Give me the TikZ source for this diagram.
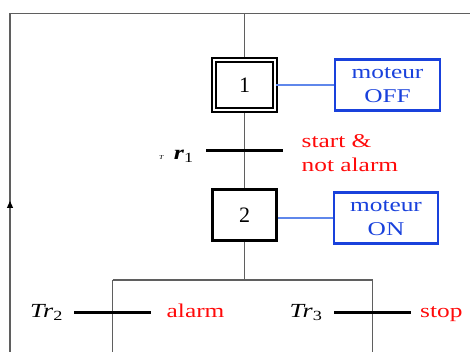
\documentclass[tikz,border=0pt]{standalone}
\usepackage{fontspec}
\setmainfont{Liberation Serif}
\usepackage{graphicx}
\usetikzlibrary{arrows.meta, positioning, backgrounds}
\definecolor{actblue}{RGB}{25,65,220}
\definecolor{linkblue}{RGB}{95,135,235}
\definecolor{condred}{RGB}{255,10,10}
\definecolor{wiregray}{RGB}{95,95,95}
\newcommand{\widetxt}[1]{\scalebox{1.3}[1]{#1}}

\begin{document}
\begin{tikzpicture}[x=1pt, y=-1pt,
    etape/.style={draw=black, line width=2.8pt, minimum width=63.5pt, minimum height=50.5pt, inner sep=0pt, font=\fontsize{22}{22}\selectfont},
    etapeinit/.style={etape, line width=1.9pt, double=white, double distance=2.2pt, minimum width=61pt, minimum height=49.5pt},
    action/.style={draw=actblue, line width=2.2pt, minimum width=104.5pt, minimum height=51pt, inner sep=0pt, align=center, text=actblue, font=\fontsize{19.5}{24.5}\selectfont},
    trans/.style={fill=black, inner sep=0pt, minimum width=77pt, minimum height=3pt},
    cond/.style={text=condred, align=left, inner sep=0pt, font=\fontsize{19.5}{24}\selectfont},
    trname/.style={inner sep=0pt, anchor=base west, font=\fontsize{20}{20}\selectfont\itshape},
    wire/.style={draw=wiregray, line width=1.2pt},
    lien/.style={draw=linkblue, line width=1.3pt}]
    \useasboundingbox (0,0) rectangle (470,352);

    % Etapes et actions
    \node[etapeinit] (e1) at (244.5,85) {1};
    \node[action] (a1) at (387.5,85) {\widetxt{moteur}\\\widetxt{OFF}};
    \node[etape] (e2) at (244.5,215) {2};
    \node[action] (a2) at (386,218) {\widetxt{moteur}\\\widetxt{ON}};

    % Transitions
    \node[trans] (t1) at (244.5,150.5) {};
    \node[trname] (n1) at (159,159.3) {\widetxt{{\fontsize{6}{6}\selectfont T}\hspace{8pt}\textbf{r}\textsubscript{\upshape 1}}};
    \node[cond, anchor=west] (c1) at (301.5,153) {\widetxt{start \&}\\\widetxt{not alarm}};

    \node[trans] (t2) at (112.7,312.7) {};
    \node[trname] (n2) at (30,317.3) {\widetxt{Tr\textsubscript{\upshape 2}}};
    \node[cond, anchor=base west] (c2) at (166.5,317.3) {\widetxt{alarm}};

    \node[trans] (t3) at (372.7,312.7) {};
    \node[trname] (n3) at (289.5,317.3) {\widetxt{Tr\textsubscript{\upshape 3}}};
    \node[cond, anchor=base west] (c3) at (420,317.3) {\widetxt{stop}};

    % Liaisons
    \coordinate (haut) at (244.5,13.3);
    \coordinate (coinG) at (10,13.3);
    \coordinate (droite) at (470,13.3);
    \coordinate (basG) at (10,352);
    \coordinate (fleche) at (10,201);
    \coordinate (div) at (244.5,280);
    \coordinate (divG) at (112.7,280);
    \coordinate (divD) at (372.7,280);
    \coordinate (basT2) at (112.7,352);
    \coordinate (basT3) at (372.7,352);

    \begin{scope}[on background layer]
        \draw[wire] (droite) -- (haut) -- (e1);
        \draw[wire] (e1) -- (t1) -- (e2) -- (div);
        \draw[wire] (divG) -- (divD);
        \draw[wire] (divG) -- (t2) -- (basT2);
        \draw[wire] (divD) -- (t3) -- (basT3);
        \draw[wire] (basG) -- (coinG) -- (haut);
    \end{scope}
    \draw[wire, -{Triangle[length=7pt, width=6pt, color=black]}] (basG) -- (fleche);
    \draw[lien] (e1) -- (a1);
    \draw[lien] (a2.west) -- (a2.west -| e2.east);
\end{tikzpicture}
\end{document}
